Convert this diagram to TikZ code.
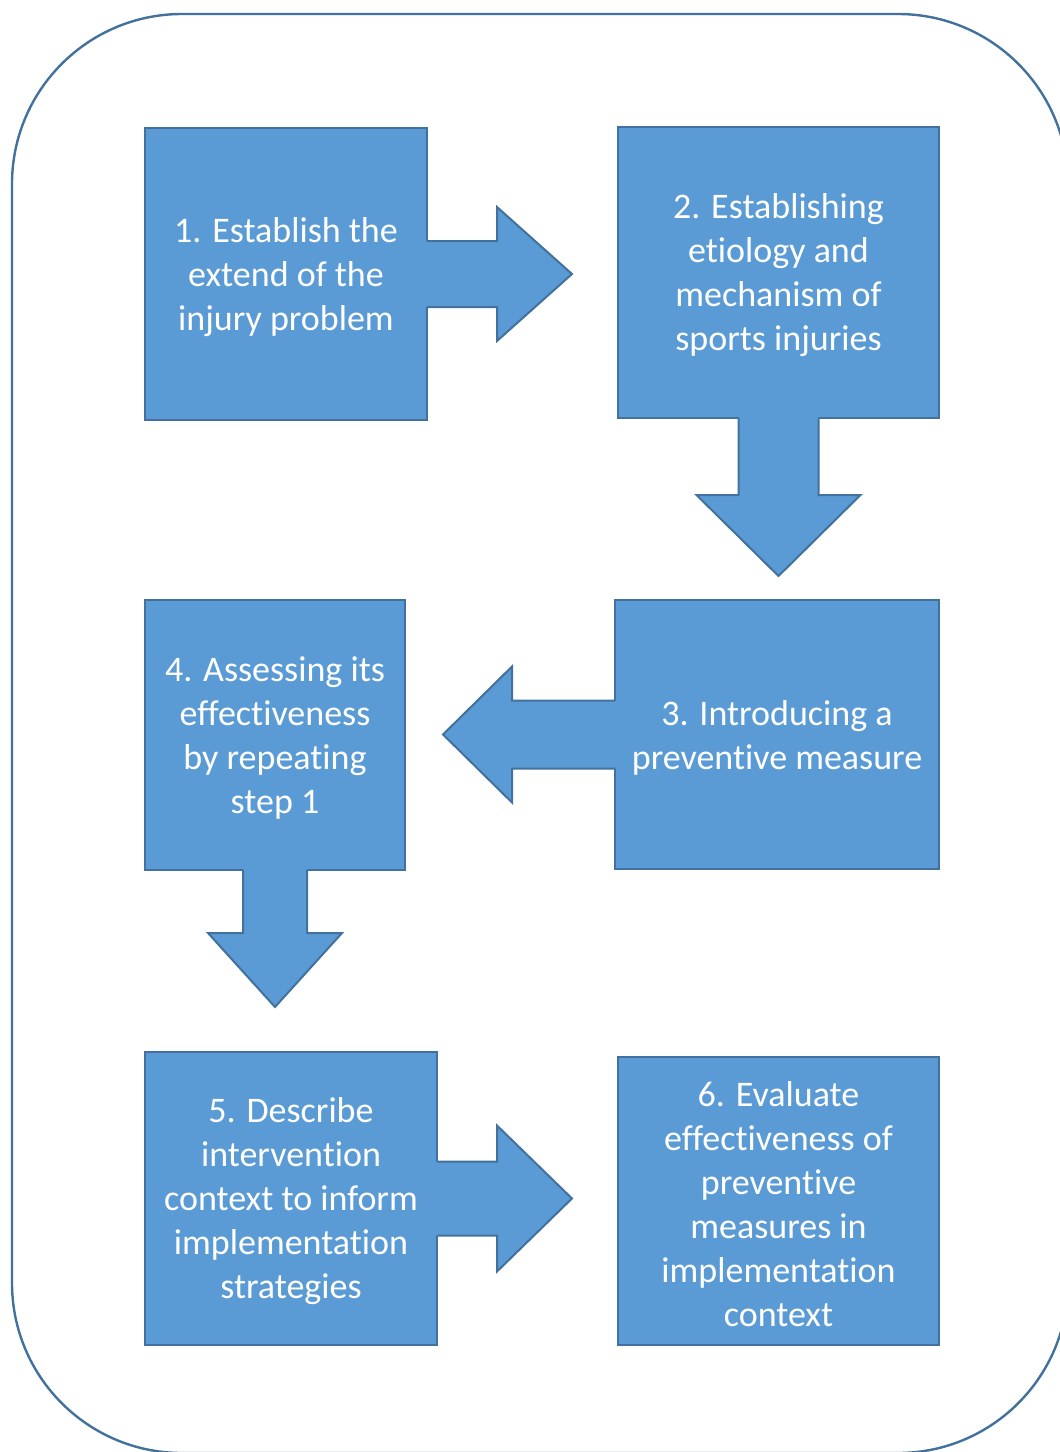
\documentclass[tikz,border=0pt]{standalone}
\usepackage{fontspec}
\setmainfont{Carlito}[Ligatures=NoCommon]
\usepackage{xcolor}
\usepackage{tikz}
\usetikzlibrary{calc,positioning}

\definecolor{boxfill}{HTML}{5B9BD5}
\definecolor{boxline}{HTML}{41719C}

\tikzset{
    stepbox/.style={draw=boxline, fill=boxfill, line width=1pt, text=white,
        align=center, font=\fontsize{18}{22}\selectfont, inner sep=0pt, outer sep=0pt},
    arrowbody/.style={fill=boxfill},
    arrowedge/.style={draw=boxline, line width=1pt, line join=miter},
    frame/.style={draw=boxline, line width=1.2pt, rounded corners=85pt}
}

% block arrow: start, angle, shaft length, shaft half-width, head half-width, head length
\newcommand{\blockarrow}[6]{%
    \begin{scope}[shift={(#1)}, rotate=#2]
        \fill[arrowbody] (-3,-#4) -- (#3,-#4) -- (#3,-#5) -- ({#3+#6},0) -- (#3,#5) -- (#3,#4) -- (-3,#4) -- cycle;
        \draw[arrowedge] (0,-#4) -- (#3,-#4) -- (#3,-#5) -- ({#3+#6},0) -- (#3,#5) -- (#3,#4) -- (0,#4);
    \end{scope}}

\begin{document}
\begin{tikzpicture}[x=0.5pt,y=-0.5pt]

    \useasboundingbox (0,0) rectangle (1060,1452);

    % Frame
    \draw[frame] (12,14) rectangle (1068,1453);

    % Steps
    \node[stepbox, minimum width=141pt, minimum height=146pt] (s1) at (286,274)
        {\strut 1. Establish the\\extend of the\\injury problem};
    \node[stepbox, minimum width=160.5pt, minimum height=145.5pt] (s2) at (778.5,272.5)
        {\strut 2. Establishing\\etiology and\\mechanism of\\sports injuries};
    \node[stepbox, minimum width=162pt, minimum height=134.5pt] (s3) at (777,734.5)
        {\strut 3. Introducing a\\preventive measure};
    \node[stepbox, minimum width=130pt, minimum height=135pt] (s4) at (275,735)
        {\strut 4. Assessing its\\effectiveness\\by repeating\\step 1};
    \node[stepbox, minimum width=146pt, minimum height=146.5pt] (s5) at (291,1198.5)
        {\strut 5. Describe\\intervention\\context to inform\\implementation\\strategies};
    \node[stepbox, minimum width=160.5pt, minimum height=144pt] (s6) at (778.5,1201)
        {\strut 6. Evaluate\\effectiveness of\\preventive\\measures in\\implementation\\context};

    % Arrows
    \blockarrow{s1.east}{0}{70}{33}{67}{75}
    \blockarrow{s2.south}{-90}{77}{40}{82}{81}
    \blockarrow{s3.west}{180}{103}{34}{68}{69}
    \blockarrow{s4.south}{-90}{63}{32}{67}{74}
    \blockarrow{s5.east}{0}{60}{37}{73}{75}

\end{tikzpicture}
\end{document}
